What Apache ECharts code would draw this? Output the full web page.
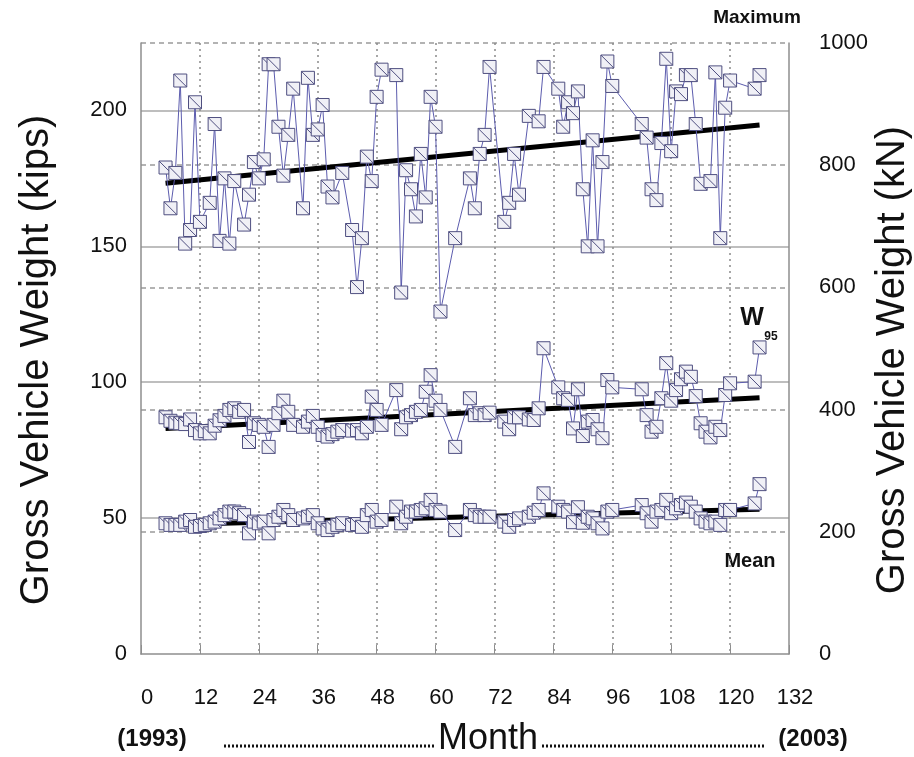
<!DOCTYPE html>
<html>
<head>
<meta charset="utf-8">
<script src="https://cdn.jsdelivr.net/npm/echarts@6/dist/echarts.min.js"></script>
<style>
html,body{margin:0;padding:0;background:#fff;}
#chart{width:914px;height:757px;}
</style>
</head>
<body>
<div id="chart"></div>
<script>
// ---------------- data ----------------
const KN_PER_KIP = 4.44822;
const monthTicks = [0, 12, 24, 36, 48, 60, 72, 84, 96, 108, 120, 132];
const kipsTicks = [0, 50, 100, 150, 200];
const knTicks = [0, 200, 400, 600, 800, 1000];

const maxMonths = [5,6,7,8,9,10,11,12,14,15,16,17,18,19,21,22,23,24,25,26,27,28,29,30,31,33,34,35,36,37,38,39,41,43,44,45,46,47,48,49,52,53,54,55,56,57,58,59,60,61,64,67,68,69,70,71,74,75,76,77,79,81,82,85,86,87,88,89,90,91,92,93,94,95,96,102,103,104,105,106,107,108,109,110,111,112,113,114,116,117,118,119,120,125,126];
const maxKips = [179,164,177,211,151,156,203,159,166,195,152,175,151,174,158,169,181,175,182,217,217,194,176,191,208,164,212,191,193,202,172,168,177,156,135,153,183,174,205,215,213,133,178,171,161,184,168,205,194,126,153,175,164,184,191,216,159,166,184,169,198,196,216,208,194,203,199,207,171,150,189,150,181,218,209,195,190,171,167,188,219,185,207,206,213,213,195,173,174,214,153,201,211,208,213];

const w95Months = [5,6,7,8,9,10,11,12,13,14,15,16,17,18,19,20,21,22,23,24,25,26,27,28,29,30,31,33,34,35,36,37,38,39,40,41,43,44,45,46,47,48,49,52,53,54,55,56,57,58,59,60,61,64,67,68,69,70,71,74,75,76,77,79,80,81,82,85,86,87,88,89,90,91,92,93,94,95,96,102,103,104,105,106,107,108,109,110,111,112,113,114,115,116,117,118,119,120,125,126];
const w95Kips = [87.1,85.8,85.1,84.9,84.6,86.3,82.4,81.2,82.0,81.2,84.0,86.0,87.6,89.8,90.4,89.1,89.8,78.0,84.9,84.3,83.6,76.2,84.3,88.6,93.2,89.1,84.3,
  83.6,85.5,87.6,83.6,80.6,80.0,80.9,81.8,82.4,
  82.2,82.4,81.2,83.6,94.7,89.8,84.3,
  97.1,82.7,87.1,87.9,89.1,89.8,96.5,102.6,93.2,89.8,
  76.2,
  94.1,87.9,88.6,87.9,88.8,
  85.5,82.7,87.1,87.1,
  86.3,86.1,90.4,112.5,
  98.1,94.1,93.5,83.0,97.4,80.2,85.5,86.1,82.7,79.4,100.8,98.1,
  97.4,87.9,81.8,83.6,94.1,107.0,93.2,97.1,101.1,103.9,102.0,94.9,84.9,81.8,79.7,83.6,82.4,95.3,99.6,
  100.2,112.8];

const meanMonths = w95Months;
const meanKips = [48.1,47.5,47.5,47.5,48.7,49.3,46.8,47.1,47.5,48.1,48.7,49.9,51.1,52.4,52.4,51.8,51.1,44.4,48.7,48.1,48.7,44.4,49.3,50.5,53.0,51.1,49.3,
  49.9,50.5,51.1,48.1,46.2,45.6,46.8,47.5,48.1,
  47.5,47.8,46.8,51.1,53.0,48.7,49.3,
  54.2,48.1,50.5,52.4,52.4,53.0,53.6,56.7,53.0,52.4,
  45.6,
  53.0,51.1,50.5,50.5,50.5,
  48.7,46.8,49.3,49.9,
  50.5,52.0,53.0,59.1,
  54.2,53.0,52.4,48.5,54.0,48.3,50.5,49.9,48.1,46.2,52.4,53.0,
  54.8,51.8,48.7,52.4,53.0,56.7,51.8,53.6,54.8,55.7,54.2,52.4,49.9,48.7,48.1,48.7,47.5,53.0,53.0,
  55.4,62.5];

const trendMonths = [5, 126];
const maxTrend = [173.2, 194.6];
const w95Trend = [83.0, 94.3];
const meanTrend = [47.6, 53.3];

// ---------------- chart ----------------
const KIPS_MAX = knTicks[knTicks.length - 1] / KN_PER_KIP;
const FONT = '"Liberation Sans", Arial, Helvetica, sans-serif';
const pairs = (xs, ys) => xs.map((x, i) => [x, ys[i]]);
const markerSymbol = 'path://M0,0L10,0L10,10L0,10ZM0,0L10,10';

function dataSeries(xs, ys) {
  return {
    type: 'line', xAxisIndex: 0, yAxisIndex: 0,
    data: pairs(xs, ys),
    symbol: markerSymbol, symbolSize: 13, showAllSymbol: true,
    lineStyle: { color: '#5c5cae', width: 1 },
    itemStyle: { color: '#f0f0f6', borderColor: '#4f4f80', borderWidth: 1 },
    emphasis: { disabled: true }, silent: true, z: 3
  };
}
function trendSeries(ys) {
  return {
    type: 'line', xAxisIndex: 0, yAxisIndex: 0,
    data: pairs(trendMonths, ys), symbol: 'none',
    lineStyle: { color: '#000', width: 5 },
    emphasis: { disabled: true }, silent: true, z: 2
  };
}

const axisGray = '#8e8e8e';
const tickLabel = { fontSize: 22, color: '#111', fontFamily: FONT };
const chart = echarts.init(document.getElementById('chart'), null, { renderer: 'canvas' });
chart.setOption({
  animation: false,
  backgroundColor: '#fff',
  textStyle: { fontFamily: FONT },
  grid: { left: 141, right: 125, top: 43, bottom: 103, containLabel: false },
  xAxis: {
    type: 'value', min: monthTicks[0], max: monthTicks[monthTicks.length - 1], interval: 12,
    axisLine: { show: true, onZero: false, lineStyle: { color: axisGray, width: 1.5 } },
    axisTick: { show: true, inside: true, length: 9, lineStyle: { color: axisGray, width: 1 } },
    axisLabel: Object.assign({ margin: 33, padding: [0, 0, 0, 12] }, tickLabel),
    splitLine: { show: true, showMinLine: false, showMaxLine: false, lineStyle: { type: [2, 4], color: '#8a8a8a', width: 1.5 } }
  },
  yAxis: [
    {
      type: 'value', position: 'left', min: 0, max: KIPS_MAX, interval: 50,
      axisLine: { show: true, onZero: false, lineStyle: { color: axisGray, width: 1.5 } },
      axisTick: { show: false },
      axisLabel: Object.assign({ margin: 14,
        formatter: v => (kipsTicks.indexOf(Math.round(v * 1000) / 1000) >= 0 ? String(v) : '') }, tickLabel),
      splitLine: { show: true, showMinLine: false, showMaxLine: false, lineStyle: { color: '#a8a8a8', width: 1.5 } }
    },
    {
      type: 'value', position: 'right', min: 0, max: knTicks[knTicks.length - 1], interval: 200,
      axisLine: { show: true, onZero: false, lineStyle: { color: axisGray, width: 1.5 } },
      axisTick: { show: false },
      axisLabel: Object.assign({ margin: 30, formatter: v => String(v) }, tickLabel),
      splitLine: { show: true, showMinLine: false, lineStyle: { type: [5, 4], color: '#9a9a9a', width: 1.5 } }
    }
  ],
  series: [
    trendSeries(maxTrend), trendSeries(w95Trend), trendSeries(meanTrend),
    dataSeries(maxMonths, maxKips), dataSeries(w95Months, w95Kips), dataSeries(meanMonths, meanKips)
  ],
  graphic: [
    { type: 'text', x: 37, y: 360, rotation: Math.PI / 2,
      style: { text: 'Gross Vehicle Weight (kips)', font: '40px ' + FONT, fill: '#111', align: 'center', verticalAlign: 'middle' } },
    { type: 'text', x: 893, y: 360, rotation: Math.PI / 2,
      style: { text: 'Gross Vehicle Weight (kN)', font: '40px ' + FONT, fill: '#111', align: 'center', verticalAlign: 'middle' } },
    { type: 'text', x: 757, y: 18,
      style: { text: 'Maximum', font: 'bold 19px ' + FONT, fill: '#111', align: 'center', verticalAlign: 'middle' } },
    { type: 'text', x: 752, y: 318,
      style: { text: 'W', font: 'bold 25px ' + FONT, fill: '#111', align: 'center', verticalAlign: 'middle' } },
    { type: 'text', x: 771, y: 337,
      style: { text: '95', font: 'bold 12px ' + FONT, fill: '#111', align: 'center', verticalAlign: 'middle' } },
    { type: 'text', x: 750, y: 561,
      style: { text: 'Mean', font: 'bold 20px ' + FONT, fill: '#111', align: 'center', verticalAlign: 'middle' } },
    { type: 'text', x: 152, y: 739,
      style: { text: '(1993)', font: 'bold 24px ' + FONT, fill: '#111', align: 'center', verticalAlign: 'middle' } },
    { type: 'text', x: 813, y: 739,
      style: { text: '(2003)', font: 'bold 24px ' + FONT, fill: '#111', align: 'center', verticalAlign: 'middle' } },
    { type: 'text', x: 488, y: 739,
      style: { text: 'Month', font: '36px ' + FONT, fill: '#111', align: 'center', verticalAlign: 'middle' } },
    { type: 'line', shape: { x1: 224, y1: 746, x2: 434, y2: 746 },
      style: { stroke: '#111', lineWidth: 3, lineDash: [2, 2] } },
    { type: 'line', shape: { x1: 542, y1: 746, x2: 764, y2: 746 },
      style: { stroke: '#111', lineWidth: 3, lineDash: [2, 2] } }
  ]
});
</script>
</body>
</html>
